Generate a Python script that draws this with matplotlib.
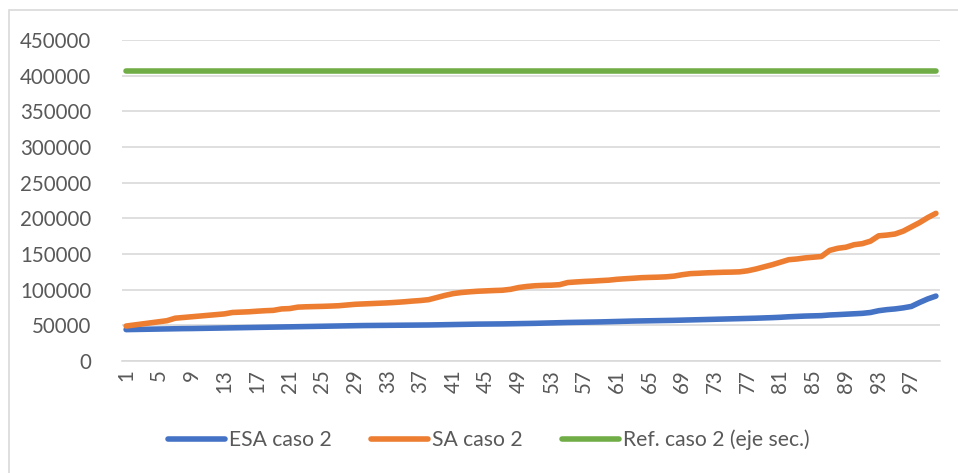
import matplotlib
matplotlib.use("Agg")
import matplotlib.pyplot as plt
from matplotlib.patches import Rectangle

# ------------------- datos -------------------
casos = list(range(1, 101))

esa_caso2 = [
    44000, 44200, 44400, 44600, 44800, 45000, 45200, 45400, 45500, 45700,
    45900, 46100, 46300, 46500, 46700, 46900, 47100, 47300, 47500, 47700,
    47900, 48100, 48300, 48500, 48700, 48900, 49100, 49300, 49500, 49700,
    49800, 49900, 50000, 50100, 50200, 50300, 50400, 50500, 50700, 50900,
    51100, 51300, 51500, 51700, 51800, 51900, 52000, 52200, 52400, 52600,
    52800, 53100, 53400, 53700, 54000, 54200, 54400, 54600, 54800, 55100,
    55400, 55700, 56000, 56200, 56400, 56600, 56800, 57000, 57300, 57600,
    57900, 58200, 58500, 58800, 59100, 59400, 59700, 60000, 60400, 60800,
    61300, 62000, 62500, 63000, 63300, 63600, 64500, 65000, 65600, 66200,
    66800, 68000, 70500, 72000, 73000, 74500, 76500, 82000, 87000, 91000,
]

sa_caso2 = [
    49000, 50500, 52000, 53500, 55000, 56500, 60000, 61000, 62000, 63000,
    64000, 65000, 66000, 68000, 68500, 69000, 69800, 70500, 71000, 73000,
    73500, 75500, 76000, 76300, 76600, 77000, 77500, 78500, 79500, 80000,
    80500, 81000, 81500, 82200, 83000, 84000, 84800, 86000, 89000, 92000,
    94500, 96000, 97000, 97800, 98300, 98800, 99200, 100500, 103000, 104500,
    105500, 106000, 106300, 107000, 110000, 110800, 111500, 112000, 112700, 113300,
    114500, 115300, 116000, 116800, 117200, 117500, 118000, 119000, 121000, 122500,
    123000, 123600, 124000, 124400, 124600, 125000, 126500, 129000, 132000, 135000,
    138500, 142000, 143000, 144500, 145500, 146500, 155000, 158000, 159500, 163000,
    164500, 168000, 175500, 176500, 178000, 182000, 188000, 194000, 201000, 207000,
]

ref_caso2 = [406000] * 100

yticks = list(range(0, 450001, 50000))
xtick_labels = list(range(1, 101, 4))

# ------------------- figura -------------------
plt.rcParams['font.family'] = ['Lato', 'DejaVu Sans']
W, H = 958, 473
fig = plt.figure(figsize=(W / 100, H / 100), dpi=100)

# borde del área del gráfico
fig.patches.append(Rectangle((9 / W, -0.05), 2, 1.05 - 10 / H, transform=fig.transFigure,
                             fill=False, ec="#D9D9D9", lw=1.2))

ax = fig.add_axes([122 / W, (H - 361) / H, (940 - 122) / W, (361 - 40) / H])

ax.plot(casos, esa_caso2, color="#4472C4", lw=4, solid_capstyle="round", label="ESA caso 2", zorder=3)
ax.plot(casos, sa_caso2, color="#ED7D31", lw=4, solid_capstyle="round", label="SA caso 2", zorder=3)
ax.plot(casos, ref_caso2, color="#70AD47", lw=4, solid_capstyle="round", label="Ref. caso 2 (eje sec.)", zorder=3)

ax.set_xlim(0.5, 100.5)
ax.set_ylim(0, 450000)
ax.set_yticks(yticks)
ax.set_yticklabels([str(v) for v in yticks])
ax.set_xticks(xtick_labels)
ax.set_xticklabels([str(v) for v in xtick_labels], rotation=90)

ax.grid(axis="y", color="#D9D9D9", lw=1.2)
ax.set_axisbelow(True)
for s in ["top", "right", "left"]:
    ax.spines[s].set_visible(False)
ax.spines["bottom"].set_color("#D9D9D9")
ax.spines["bottom"].set_linewidth(1.2)
ax.spines["bottom"].set_zorder(1)

ax.tick_params(axis="both", length=0, labelsize=14.8, labelcolor="#595959")
ax.tick_params(axis="y", pad=22)
ax.tick_params(axis="x", pad=6)

leg = fig.legend(loc="center", bbox_to_anchor=(0.5 + 10 / W, (H - 440) / H), ncol=3, frameon=False,
                 fontsize=15.2, handlelength=2.7, handletextpad=0.2, columnspacing=1.85)
for t in leg.get_texts():
    t.set_color("#595959")

fig.savefig("out.png", dpi=100)
